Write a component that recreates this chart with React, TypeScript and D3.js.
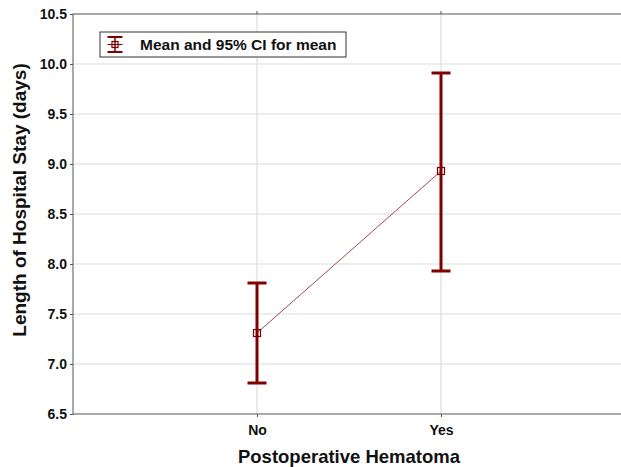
import { useEffect, useRef } from 'react'
import * as d3 from 'd3'

const categories = ['No', 'Yes']
const means = [7.31, 8.93]
const lowerCI = [6.81, 7.93]
const upperCI = [7.81, 9.91]
const yTicks = [6.5, 7.0, 7.5, 8.0, 8.5, 9.0, 9.5, 10.0, 10.5]

export default function App() {
  const ref = useRef<SVGSVGElement>(null)

  useEffect(() => {
    const svg = d3.select(ref.current)
    svg.selectAll('*').remove()

    const width = 621
    const height = 467
    const margin = { top: 14, right: -4, bottom: 53, left: 73 }
    const innerW = width - margin.left - margin.right
    const innerH = height - margin.top - margin.bottom
    const dark = '#800000'
    const font = 'Liberation Sans, Arial, sans-serif'

    const x = d3.scaleLinear().domain([0, 3]).range([0, innerW])
    const y = d3.scaleLinear().domain([6.5, 10.5]).range([innerH, 0])

    const g = svg.append('g').attr('transform', `translate(${margin.left},${margin.top})`)

    // grid
    g.selectAll('.hgrid')
      .data(yTicks.slice(1, -1))
      .enter().append('line')
      .attr('x1', 0).attr('x2', innerW)
      .attr('y1', d => y(d)).attr('y2', d => y(d))
      .attr('stroke', '#dcdcdc').attr('stroke-width', 1.2)
    g.selectAll('.vgrid')
      .data(categories)
      .enter().append('line')
      .attr('x1', (_, i) => x(i + 1)).attr('x2', (_, i) => x(i + 1))
      .attr('y1', 0).attr('y2', innerH)
      .attr('stroke', '#dcdcdc').attr('stroke-width', 1.2)

    // frame
    g.append('rect')
      .attr('width', innerW).attr('height', innerH)
      .attr('fill', 'none').attr('stroke', '#555').attr('stroke-width', 1)

    // axes
    const yAxis = g.append('g')
      .call(d3.axisLeft(y).tickValues(yTicks).tickFormat(d3.format('.1f')).tickSize(3))
    yAxis.select('.domain').remove()
    yAxis.selectAll('line').attr('stroke', '#555')
    yAxis.selectAll('text')
      .attr('font-family', font).attr('font-size', 14).attr('font-weight', 'bold').attr('fill', '#111')
      .attr('x', -6)

    const xAxis = g.append('g')
      .attr('transform', `translate(0,${innerH})`)
      .call(d3.axisBottom(x).tickValues([1, 2]).tickFormat((_, i) => categories[i]).tickSize(3))
    xAxis.select('.domain').remove()
    xAxis.selectAll('line').attr('stroke', '#555')
    xAxis.selectAll('text')
      .attr('font-family', font).attr('font-size', 14).attr('font-weight', 'bold').attr('fill', '#111')
      .attr('dy', '1.1em')

    // top ticks
    g.selectAll('.ttick')
      .data(categories)
      .enter().append('line')
      .attr('x1', (_, i) => x(i + 1)).attr('x2', (_, i) => x(i + 1))
      .attr('y1', 0).attr('y2', -3)
      .attr('stroke', '#555')

    // connecting line
    const line = d3.line<number>().x((_, i) => x(i + 1)).y(d => y(d))
    g.append('path')
      .datum(means)
      .attr('d', line)
      .attr('fill', 'none').attr('stroke', '#a04848').attr('stroke-width', 1)

    // error bars
    const capW = 19
    categories.forEach((_, i) => {
      const cx = x(i + 1)
      g.append('line')
        .attr('x1', cx).attr('x2', cx)
        .attr('y1', y(lowerCI[i])).attr('y2', y(upperCI[i]))
        .attr('stroke', dark).attr('stroke-width', 3)
      ;[lowerCI[i], upperCI[i]].forEach(v => {
        g.append('line')
          .attr('x1', cx - capW / 2).attr('x2', cx + capW / 2)
          .attr('y1', y(v)).attr('y2', y(v))
          .attr('stroke', dark).attr('stroke-width', 3)
      })
      g.append('rect')
        .attr('x', cx - 3.5).attr('y', y(means[i]) - 3.5)
        .attr('width', 7).attr('height', 7)
        .attr('fill', 'none').attr('stroke', dark).attr('stroke-width', 1.2)
    })

    // legend
    const lg = svg.append('g').attr('transform', 'translate(100,32)')
    lg.append('rect')
      .attr('width', 246).attr('height', 25)
      .attr('fill', '#fff').attr('stroke', '#333').attr('stroke-width', 1)
    const lx = 15
    const hw = 7.5
    lg.append('line').attr('x1', lx).attr('x2', lx).attr('y1', 5).attr('y2', 20).attr('stroke', dark).attr('stroke-width', 1.5)
    lg.append('line').attr('x1', lx - hw).attr('x2', lx + hw).attr('y1', 5).attr('y2', 5).attr('stroke', dark).attr('stroke-width', 2)
    lg.append('line').attr('x1', lx - hw).attr('x2', lx + hw).attr('y1', 20).attr('y2', 20).attr('stroke', dark).attr('stroke-width', 2)
    lg.append('line').attr('x1', lx - hw).attr('x2', lx + hw).attr('y1', 12.5).attr('y2', 12.5).attr('stroke', dark).attr('stroke-width', 1)
    lg.append('rect').attr('x', lx - 3).attr('y', 9.5).attr('width', 6).attr('height', 6)
      .attr('fill', 'none').attr('stroke', dark).attr('stroke-width', 1.2)
    lg.append('text')
      .attr('x', 40).attr('y', 18)
      .attr('font-family', font).attr('font-size', 15.5).attr('font-weight', 'bold').attr('fill', '#111')
      .text('Mean and 95% CI for mean')

    // axis titles
    svg.append('text')
      .attr('x', 349).attr('y', 463)
      .attr('text-anchor', 'middle')
      .attr('font-family', font).attr('font-size', 18.5).attr('font-weight', 'bold').attr('fill', '#111')
      .text('Postoperative Hematoma')
    svg.append('text')
      .attr('transform', 'translate(26,200) rotate(-90)')
      .attr('text-anchor', 'middle')
      .attr('font-family', font).attr('font-size', 19).attr('font-weight', 'bold').attr('fill', '#111')
      .text('Length of Hospital Stay (days)')
  }, [])

  return <svg ref={ref} width={621} height={467} style={{ display: 'block', position: 'absolute', left: 0, top: 0 }} />
}
